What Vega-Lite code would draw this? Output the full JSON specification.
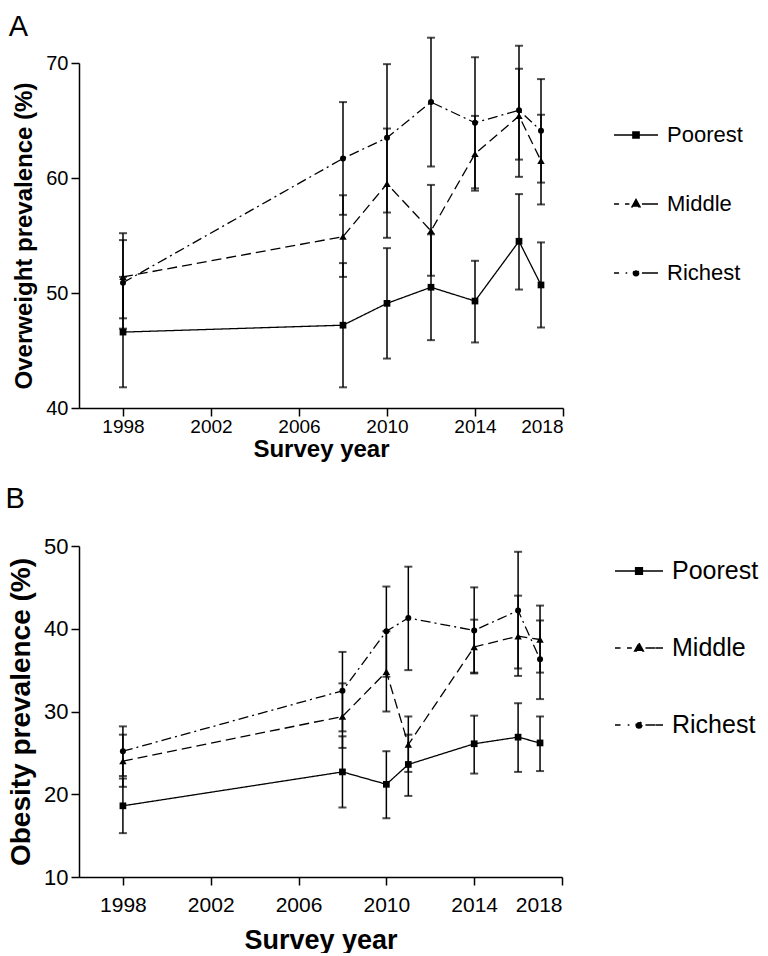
{
  "$schema": "https://vega.github.io/schema/vega-lite/v6.json",
  "padding": {"left": 5, "top": 12, "right": 0, "bottom": 0},
  "datasets": {
    "overweight": [
      {"group": "Poorest", "year": 1998, "value": 46.6, "lo": 41.8, "hi": 51.4},
      {"group": "Poorest", "year": 2008, "value": 47.2, "lo": 41.8, "hi": 52.6},
      {"group": "Poorest", "year": 2010, "value": 49.1, "lo": 44.3, "hi": 53.9},
      {"group": "Poorest", "year": 2012, "value": 50.5, "lo": 45.9, "hi": 55.1},
      {"group": "Poorest", "year": 2014, "value": 49.3, "lo": 45.7, "hi": 52.8},
      {"group": "Poorest", "year": 2016, "value": 54.5, "lo": 50.3, "hi": 58.6},
      {"group": "Poorest", "year": 2017, "value": 50.7, "lo": 47.0, "hi": 54.4},
      {"group": "Middle", "year": 1998, "value": 51.4, "lo": 47.8, "hi": 55.2},
      {"group": "Middle", "year": 2008, "value": 54.9, "lo": 51.4, "hi": 58.5},
      {"group": "Middle", "year": 2010, "value": 59.5, "lo": 54.8, "hi": 64.3},
      {"group": "Middle", "year": 2012, "value": 55.4, "lo": 51.5, "hi": 59.4},
      {"group": "Middle", "year": 2014, "value": 62.1, "lo": 58.9, "hi": 65.4},
      {"group": "Middle", "year": 2016, "value": 65.4, "lo": 61.6, "hi": 69.5},
      {"group": "Middle", "year": 2017, "value": 61.5, "lo": 57.7, "hi": 65.5},
      {"group": "Richest", "year": 1998, "value": 50.9, "lo": 46.9, "hi": 54.6},
      {"group": "Richest", "year": 2008, "value": 61.7, "lo": 56.8, "hi": 66.6},
      {"group": "Richest", "year": 2010, "value": 63.5, "lo": 57.0, "hi": 69.9},
      {"group": "Richest", "year": 2012, "value": 66.6, "lo": 61.0, "hi": 72.2},
      {"group": "Richest", "year": 2014, "value": 64.8, "lo": 59.1, "hi": 70.5},
      {"group": "Richest", "year": 2016, "value": 65.9, "lo": 60.1, "hi": 71.5},
      {"group": "Richest", "year": 2017, "value": 64.1, "lo": 59.6, "hi": 68.6}
    ],
    "obesity": [
      {"group": "Poorest", "year": 1998, "value": 18.6, "lo": 15.3, "hi": 21.9},
      {"group": "Poorest", "year": 2008, "value": 22.7, "lo": 18.4, "hi": 27.0},
      {"group": "Poorest", "year": 2010, "value": 21.2, "lo": 17.1, "hi": 25.2},
      {"group": "Poorest", "year": 2011, "value": 23.6, "lo": 19.8, "hi": 27.2},
      {"group": "Poorest", "year": 2014, "value": 26.1, "lo": 22.5, "hi": 29.5},
      {"group": "Poorest", "year": 2016, "value": 26.9, "lo": 22.7, "hi": 31.0},
      {"group": "Poorest", "year": 2017, "value": 26.2, "lo": 22.8, "hi": 29.4},
      {"group": "Middle", "year": 1998, "value": 24.0, "lo": 20.9, "hi": 27.2},
      {"group": "Middle", "year": 2008, "value": 29.4, "lo": 25.6, "hi": 33.4},
      {"group": "Middle", "year": 2010, "value": 34.8, "lo": 30.0, "hi": 39.7},
      {"group": "Middle", "year": 2011, "value": 26.0, "lo": 22.7, "hi": 29.4},
      {"group": "Middle", "year": 2014, "value": 37.8, "lo": 34.6, "hi": 41.1},
      {"group": "Middle", "year": 2016, "value": 39.1, "lo": 34.3, "hi": 44.0},
      {"group": "Middle", "year": 2017, "value": 38.7, "lo": 34.7, "hi": 42.8},
      {"group": "Richest", "year": 1998, "value": 25.2, "lo": 22.2, "hi": 28.2},
      {"group": "Richest", "year": 2008, "value": 32.5, "lo": 27.6, "hi": 37.2},
      {"group": "Richest", "year": 2010, "value": 39.7, "lo": 34.2, "hi": 45.1},
      {"group": "Richest", "year": 2011, "value": 41.3, "lo": 35.0, "hi": 47.5},
      {"group": "Richest", "year": 2014, "value": 39.8, "lo": 34.7, "hi": 45.0},
      {"group": "Richest", "year": 2016, "value": 42.2, "lo": 35.2, "hi": 49.3},
      {"group": "Richest", "year": 2017, "value": 36.3, "lo": 31.5, "hi": 41.0}
    ]
  },
  "vconcat": [
    {
      "title": {"text": "A", "anchor": "start", "frame": "bounds", "fontSize": 29, "fontWeight": "normal", "offset": -5, "dx": -4},
      "width": 484,
      "height": 345,
      "data": {"name": "overweight"},
      "layer": [
        {
          "mark": {"type": "rule", "color": "black", "strokeWidth": 1.5},
          "encoding": {
            "x": {"field": "year", "type": "quantitative", "scale": {"domain": [1996, 2018], "nice": false, "zero": false},
                  "axis": {"values": [1998, 2002, 2006, 2010, 2014, 2018], "format": "d", "labelFontSize": 19, "labelPadding": 1, "titleFontSize": 24, "titlePadding": 1}, "title": "Survey year"},
            "y": {"field": "lo", "type": "quantitative", "scale": {"domain": [40, 70], "nice": false, "zero": false},
                  "axis": {"values": [40, 50, 60, 70], "labelFontSize": 20, "titleFontSize": 24, "titlePadding": 9}, "title": "Overweight prevalence (%)"},
            "y2": {"field": "hi"}
          }
        },
        {
          "mark": {"type": "tick", "orient": "horizontal", "color": "black", "size": 8, "thickness": 2},
          "encoding": {
            "x": {"field": "year", "type": "quantitative", "title": "Survey year"},
            "y": {"field": "lo", "type": "quantitative", "title": "Overweight prevalence (%)"}
          }
        },
        {
          "mark": {"type": "tick", "orient": "horizontal", "color": "black", "size": 8, "thickness": 2},
          "encoding": {
            "x": {"field": "year", "type": "quantitative", "title": "Survey year"},
            "y": {"field": "hi", "type": "quantitative", "title": "Overweight prevalence (%)"}
          }
        },
        {
          "mark": {"type": "line", "color": "black", "strokeWidth": 1.3},
          "encoding": {
            "x": {"field": "year", "type": "quantitative", "title": "Survey year"},
            "y": {"field": "value", "type": "quantitative", "title": "Overweight prevalence (%)"},
            "strokeDash": {"field": "group", "type": "nominal", "scale": {"domain": ["Poorest", "Middle", "Richest"], "range": [[1, 0], [10, 5], [10, 4, 2, 4]]},
              "legend": {"orient": "right", "title": null, "labelFontSize": 22}}
          }
        },
        {
          "transform": [{"filter": "datum.group === 'Poorest'"}],
          "mark": {"type": "point", "shape": "square", "filled": true, "color": "black", "size": 45, "opacity": 1},
          "encoding": {
            "x": {"field": "year", "type": "quantitative", "title": "Survey year"},
            "y": {"field": "value", "type": "quantitative", "title": "Overweight prevalence (%)"}
          }
        },
        {
          "transform": [{"filter": "datum.group === 'Middle'"}],
          "mark": {"type": "point", "shape": "triangle-up", "filled": true, "color": "black", "size": 55, "opacity": 1},
          "encoding": {
            "x": {"field": "year", "type": "quantitative", "title": "Survey year"},
            "y": {"field": "value", "type": "quantitative", "title": "Overweight prevalence (%)"}
          }
        },
        {
          "transform": [{"filter": "datum.group === 'Richest'"}],
          "mark": {"type": "point", "shape": "circle", "filled": true, "color": "black", "size": 36, "opacity": 1},
          "encoding": {
            "x": {"field": "year", "type": "quantitative", "title": "Survey year"},
            "y": {"field": "value", "type": "quantitative", "title": "Overweight prevalence (%)"}
          }
        },
        {
          "transform": [{"filter": "false"}],
          "mark": {"type": "point", "filled": true, "color": "black", "stroke": "black", "strokeWidth": 1.5},
          "encoding": {
            "x": {"field": "year", "type": "quantitative", "title": "Survey year"},
            "y": {"field": "value", "type": "quantitative", "title": "Overweight prevalence (%)"},
            "shape": {"field": "group", "type": "nominal",
              "scale": {"domain": ["Poorest", "Middle", "Richest"], "range": [
                "M-1,0H1M-0.14,-0.14H0.14V0.14H-0.14Z",
                "M-1,0H-0.77M-0.5,0H-0.3M0.27,0H0.7M0.7,0H1M0,-0.2L0.18,0.12H-0.18Z",
                "M-1,0H-0.77M-0.47,0H-0.4M0.27,0H0.7M0.7,0H1M0.12,0A0.12,0.12,0,1,1,-0.12,0A0.12,0.12,0,1,1,0.12,0Z"
              ]},
              "legend": {"orient": "right", "offset": 1, "padding": 49, "title": null, "symbolSize": 1936, "symbolStrokeWidth": 1.5, "symbolOpacity": 1, "symbolFillColor": "black", "symbolStrokeColor": "black", "labelFontSize": 22, "labelOffset": 8, "rowPadding": 35, "labelColor": "black"}
            }
          }
        }
      ]
    },
    {
      "title": {"text": "B", "anchor": "start", "frame": "bounds", "fontSize": 29, "fontWeight": "normal", "offset": 21, "dx": -2},
      "width": 483,
      "height": 331,
      "data": {"name": "obesity"},
      "layer": [
        {
          "mark": {"type": "rule", "color": "black", "strokeWidth": 1.5},
          "encoding": {
            "x": {"field": "year", "type": "quantitative", "scale": {"domain": [1996, 2018], "nice": false, "zero": false},
                  "axis": {"values": [1998, 2002, 2006, 2010, 2014, 2018], "format": "d", "labelFontSize": 21, "labelPadding": 9, "titleFontSize": 27, "titlePadding": 12}, "title": "Survey year"},
            "y": {"field": "lo", "type": "quantitative", "scale": {"domain": [10, 50], "nice": false, "zero": false},
                  "axis": {"values": [10, 20, 30, 40, 50], "labelFontSize": 22, "titleFontSize": 28, "titlePadding": 8}, "title": "Obesity prevalence (%)"},
            "y2": {"field": "hi"}
          }
        },
        {
          "mark": {"type": "tick", "orient": "horizontal", "color": "black", "size": 8, "thickness": 2},
          "encoding": {
            "x": {"field": "year", "type": "quantitative", "title": "Survey year"},
            "y": {"field": "lo", "type": "quantitative", "title": "Obesity prevalence (%)"}
          }
        },
        {
          "mark": {"type": "tick", "orient": "horizontal", "color": "black", "size": 8, "thickness": 2},
          "encoding": {
            "x": {"field": "year", "type": "quantitative", "title": "Survey year"},
            "y": {"field": "hi", "type": "quantitative", "title": "Obesity prevalence (%)"}
          }
        },
        {
          "mark": {"type": "line", "color": "black", "strokeWidth": 1.3},
          "encoding": {
            "x": {"field": "year", "type": "quantitative", "title": "Survey year"},
            "y": {"field": "value", "type": "quantitative", "title": "Obesity prevalence (%)"},
            "strokeDash": {"field": "group", "type": "nominal", "scale": {"domain": ["Poorest", "Middle", "Richest"], "range": [[1, 0], [10, 5], [10, 4, 2, 4]]},
              "legend": {"orient": "right", "title": null, "labelFontSize": 25}}
          }
        },
        {
          "transform": [{"filter": "datum.group === 'Poorest'"}],
          "mark": {"type": "point", "shape": "square", "filled": true, "color": "black", "size": 45, "opacity": 1},
          "encoding": {
            "x": {"field": "year", "type": "quantitative", "title": "Survey year"},
            "y": {"field": "value", "type": "quantitative", "title": "Obesity prevalence (%)"}
          }
        },
        {
          "transform": [{"filter": "datum.group === 'Middle'"}],
          "mark": {"type": "point", "shape": "triangle-up", "filled": true, "color": "black", "size": 55, "opacity": 1},
          "encoding": {
            "x": {"field": "year", "type": "quantitative", "title": "Survey year"},
            "y": {"field": "value", "type": "quantitative", "title": "Obesity prevalence (%)"}
          }
        },
        {
          "transform": [{"filter": "datum.group === 'Richest'"}],
          "mark": {"type": "point", "shape": "circle", "filled": true, "color": "black", "size": 36, "opacity": 1},
          "encoding": {
            "x": {"field": "year", "type": "quantitative", "title": "Survey year"},
            "y": {"field": "value", "type": "quantitative", "title": "Obesity prevalence (%)"}
          }
        },
        {
          "transform": [{"filter": "false"}],
          "mark": {"type": "point", "filled": true, "color": "black", "stroke": "black", "strokeWidth": 1.5},
          "encoding": {
            "x": {"field": "year", "type": "quantitative", "title": "Survey year"},
            "y": {"field": "value", "type": "quantitative", "title": "Obesity prevalence (%)"},
            "shape": {"field": "group", "type": "nominal",
              "scale": {"domain": ["Poorest", "Middle", "Richest"], "range": [
                "M-1,0H1M-0.14,-0.14H0.14V0.14H-0.14Z",
                "M-1,0H-0.77M-0.5,0H-0.3M0.27,0H0.7M0.7,0H1M0,-0.2L0.18,0.12H-0.18Z",
                "M-1,0H-0.77M-0.47,0H-0.4M0.27,0H0.7M0.7,0H1M0.12,0A0.12,0.12,0,1,1,-0.12,0A0.12,0.12,0,1,1,0.12,0Z"
              ]},
              "legend": {"orient": "right", "offset": 52, "padding": 0, "title": null, "symbolSize": 2304, "symbolStrokeWidth": 1.5, "symbolOpacity": 1, "symbolFillColor": "black", "symbolStrokeColor": "black", "labelFontSize": 25, "labelOffset": 8, "rowPadding": 39, "labelColor": "black"}
            }
          }
        }
      ]
    }
  ],
  "spacing": 24,
  "resolve": {"scale": {"x": "independent", "y": "independent", "shape": "independent", "strokeDash": "independent"}, "legend": {"shape": "independent", "strokeDash": "independent"}},
  "config": {
    "font": "Liberation Sans",
    "view": {"stroke": null},
    "title": {"color": "black", "font": "Liberation Sans"},
    "axis": {"grid": false, "domainColor": "black", "domainWidth": 1.5, "tickColor": "black", "tickWidth": 1.5, "tickSize": 8, "labelColor": "black", "titleColor": "black", "labelFont": "Liberation Sans", "titleFont": "Liberation Sans", "titleFontWeight": "bold", "labelPadding": 3},
    "legend": {"labelFont": "Liberation Sans"}
  }
}
